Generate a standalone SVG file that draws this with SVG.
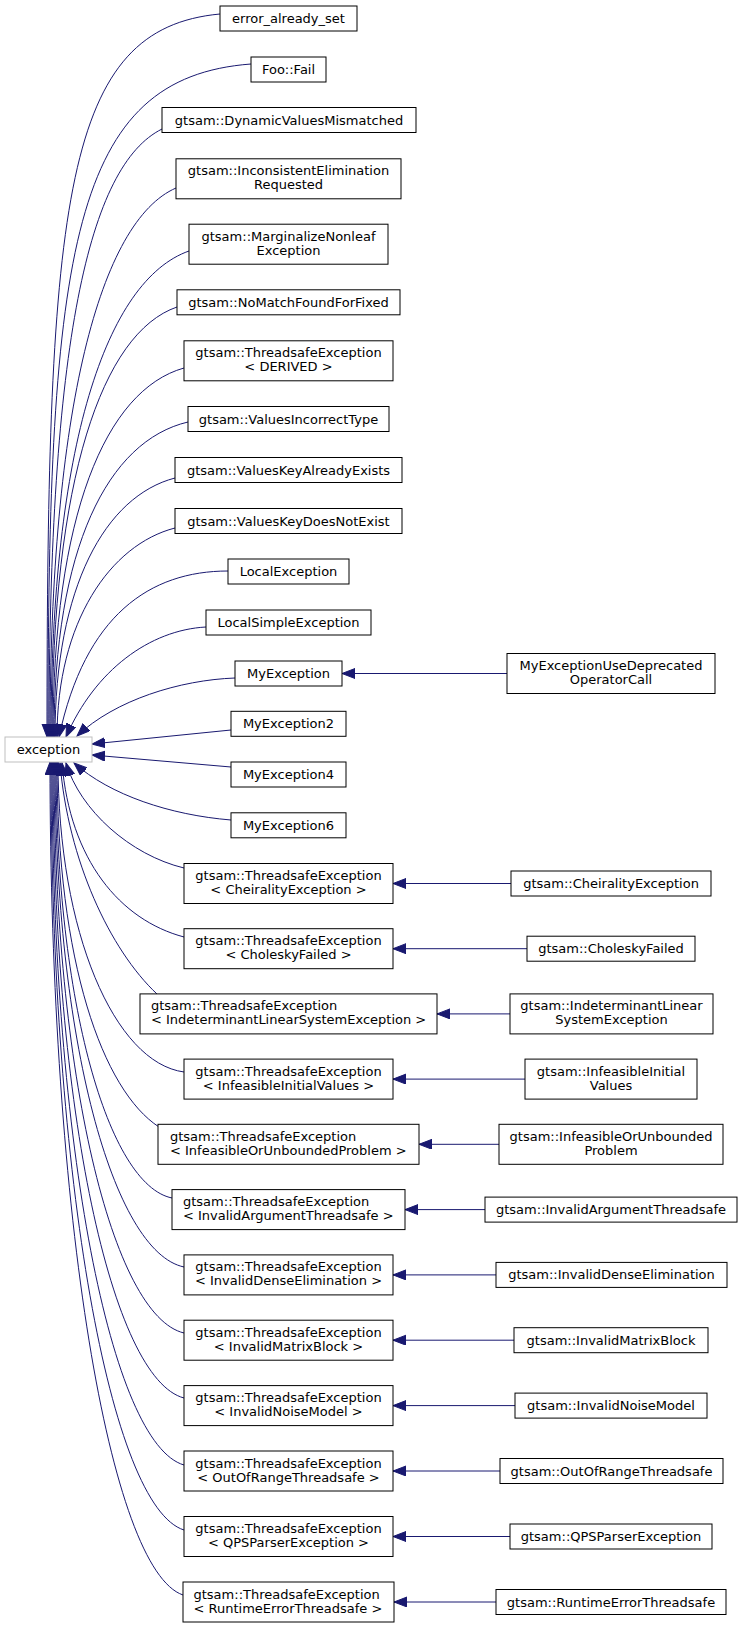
<svg xmlns="http://www.w3.org/2000/svg" width="743" height="1629" viewBox="0 0 743 1629">
<style>
.n rect{fill:#fff;stroke:#000;stroke-width:1}
.g rect{fill:#fff;stroke:#bfbfbf;stroke-width:1}
text{font-family:"DejaVu Sans","Liberation Sans",sans-serif;font-size:13px;fill:#000;text-anchor:middle}
text.l{text-anchor:start}
.e path{fill:none;stroke:#191970;stroke-width:1;marker-end:url(#ah)}
</style>
<defs>
<marker id="ah" markerUnits="userSpaceOnUse" markerWidth="14" markerHeight="11" refX="13" refY="5" orient="auto">
<path d="M0,0 L13,5 L0,10 z" fill="#191970" stroke="#191970" stroke-width="1"/>
</marker>
</defs>
<rect width="743" height="1629" fill="#fff"/>
<g class="e" id="connectors">
<path d="M220,14 C64.3,28.5 47,194.8 47,737"/>
<path d="M251,64 C72.4,77.5 48,245.7 48,737"/>
<path d="M162,129 C88.6,165.5 49,341.8 49,737"/>
<path d="M176,188 C100.4,220.9 50,407.6 50,737"/>
<path d="M189,251 C106.2,280.2 51,445.4 51,737"/>
<path d="M177,307 C102,332.8 52,479 52,737"/>
<path d="M184,368 C105.4,390.1 53,515.6 53,737"/>
<path d="M188,422 C107.6,440.9 54,548 54,737"/>
<path d="M175,478 C105.4,496.1 55,586.8 55,737"/>
<path d="M175,528 C110.1,544.7 57,622 57,737"/>
<path d="M228,571 C150,571 85,615 59,737"/>
<path d="M206,627 C150,630 95,670 66,737"/>
<path d="M235,678 C180,680 115,700 77,736"/>
<path d="M231,730 L92,744"/>
<path d="M231,767 L92,755"/>
<path d="M231,820 C170,815 110,795 74,763"/>
<path d="M184,868 C130,855 80,810 66,763"/>
<path d="M184,937 C120,920 70,860 62,763"/>
<path d="M157,994 C110,950 68,860 60,763"/>
<path d="M184,1072 C114.7,1062.7 58,932.5 58,762"/>
<path d="M159,1127 C102.9,1090.5 57,962.7 57,762"/>
<path d="M172,1198 C108.2,1184.9 56,1001.8 56,762"/>
<path d="M184,1267 C113,1251.9 55,1040 55,762"/>
<path d="M184,1333 C112.5,1315.9 54,1076 54,762"/>
<path d="M184,1398 C112,1379 53,1112 53,762"/>
<path d="M184,1465 C111.4,1444 52,1149 52,762"/>
<path d="M184,1530 C110.8,1507 51,1184.4 51,762"/>
<path d="M183,1595 C109.9,1570 50,1220.1 50,762"/>
<path d="M507,673.5 L342,673.5"/>
<path d="M511,883.5 L393,883.5"/>
<path d="M527,948.7 L393,948.7"/>
<path d="M510,1013.9 L437,1013.9"/>
<path d="M525,1079.1 L393,1079.1"/>
<path d="M499,1144.3 L419,1144.3"/>
<path d="M485,1209.6 L405,1209.6"/>
<path d="M496,1274.9 L393,1274.9"/>
<path d="M514,1340.2 L393,1340.2"/>
<path d="M515,1405.6 L393,1405.6"/>
<path d="M500,1471 L393,1471"/>
<path d="M510,1536.5 L393,1536.5"/>
<path d="M496,1602 L394,1602"/>
</g>
<g class="g" id="n_exception"><rect x="5" y="737" width="87" height="25"/><text x="48.5" y="754">exception</text></g>
<g class="n" id="n1"><rect x="220" y="6" width="137" height="25"/><text x="288.5" y="23">error_already_set</text></g>
<g class="n" id="n2"><rect x="251" y="57" width="75" height="25"/><text x="288.5" y="74">Foo::Fail</text></g>
<g class="n" id="n3"><rect x="162" y="107.5" width="254" height="25"/><text x="289" y="124.5">gtsam::DynamicValuesMismatched</text></g>
<g class="n" id="n4"><rect x="176" y="158.8" width="225" height="40"/><text x="288.5" y="175.3">gtsam::InconsistentElimination</text><text x="288.5" y="189.3">Requested</text></g>
<g class="n" id="n5"><rect x="189" y="224.2" width="199" height="40"/><text x="288.5" y="240.7">gtsam::MarginalizeNonleaf</text><text x="288.5" y="254.7">Exception</text></g>
<g class="n" id="n6"><rect x="177" y="289.8" width="223" height="25"/><text x="288.5" y="306.8">gtsam::NoMatchFoundForFixed</text></g>
<g class="n" id="n7"><rect x="184" y="340.8" width="209" height="40"/><text x="288.5" y="357.3">gtsam::ThreadsafeException</text><text x="288.5" y="371.3">&lt; DERIVED &gt;</text></g>
<g class="n" id="n8"><rect x="188" y="406.5" width="201" height="25"/><text x="288.5" y="423.5">gtsam::ValuesIncorrectType</text></g>
<g class="n" id="n9"><rect x="175" y="457.5" width="227" height="25"/><text x="288.5" y="474.5">gtsam::ValuesKeyAlreadyExists</text></g>
<g class="n" id="n10"><rect x="175" y="508.5" width="227" height="25"/><text x="288.5" y="525.5">gtsam::ValuesKeyDoesNotExist</text></g>
<g class="n" id="n11"><rect x="228" y="559" width="121" height="25"/><text x="288.5" y="576">LocalException</text></g>
<g class="n" id="n12"><rect x="206" y="610" width="165" height="25"/><text x="288.5" y="627">LocalSimpleException</text></g>
<g class="n" id="n13"><rect x="235" y="661" width="107" height="25"/><text x="288.5" y="678">MyException</text></g>
<g class="n" id="n14"><rect x="231" y="711.3" width="115" height="25"/><text x="288.5" y="728.3">MyException2</text></g>
<g class="n" id="n15"><rect x="231" y="762" width="115" height="25"/><text x="288.5" y="779">MyException4</text></g>
<g class="n" id="n16"><rect x="231" y="812.8" width="115" height="25"/><text x="288.5" y="829.8">MyException6</text></g>
<g class="n" id="n17"><rect x="184" y="863.5" width="209" height="40"/><text x="288.5" y="880">gtsam::ThreadsafeException</text><text x="288.5" y="894">&lt; CheiralityException &gt;</text></g>
<g class="n" id="n18"><rect x="184" y="928.7" width="209" height="40"/><text x="288.5" y="945.2">gtsam::ThreadsafeException</text><text x="288.5" y="959.2">&lt; CholeskyFailed &gt;</text></g>
<g class="n" id="n19"><rect x="140" y="993.9" width="297" height="40"/><text class="l" x="151" y="1010.4">gtsam::ThreadsafeException</text><text class="l" x="151" y="1024.4">&lt; IndeterminantLinearSystemException &gt;</text></g>
<g class="n" id="n20"><rect x="184" y="1059.1" width="209" height="40"/><text x="288.5" y="1075.6">gtsam::ThreadsafeException</text><text x="288.5" y="1089.6">&lt; InfeasibleInitialValues &gt;</text></g>
<g class="n" id="n21"><rect x="158" y="1124.3" width="261" height="40"/><text class="l" x="170" y="1140.8">gtsam::ThreadsafeException</text><text class="l" x="170" y="1154.8">&lt; InfeasibleOrUnboundedProblem &gt;</text></g>
<g class="n" id="n22"><rect x="172" y="1189.6" width="233" height="40"/><text class="l" x="183" y="1206.1">gtsam::ThreadsafeException</text><text class="l" x="183" y="1220.1">&lt; InvalidArgumentThreadsafe &gt;</text></g>
<g class="n" id="n23"><rect x="184" y="1254.9" width="209" height="40"/><text x="288.5" y="1271.4">gtsam::ThreadsafeException</text><text x="288.5" y="1285.4">&lt; InvalidDenseElimination &gt;</text></g>
<g class="n" id="n24"><rect x="184" y="1320.2" width="209" height="40"/><text x="288.5" y="1336.7">gtsam::ThreadsafeException</text><text x="288.5" y="1350.7">&lt; InvalidMatrixBlock &gt;</text></g>
<g class="n" id="n25"><rect x="184" y="1385.6" width="209" height="40"/><text x="288.5" y="1402.1">gtsam::ThreadsafeException</text><text x="288.5" y="1416.1">&lt; InvalidNoiseModel &gt;</text></g>
<g class="n" id="n26"><rect x="184" y="1451" width="209" height="40"/><text x="288.5" y="1467.5">gtsam::ThreadsafeException</text><text x="288.5" y="1481.5">&lt; OutOfRangeThreadsafe &gt;</text></g>
<g class="n" id="n27"><rect x="184" y="1516.5" width="209" height="40"/><text x="288.5" y="1533">gtsam::ThreadsafeException</text><text x="288.5" y="1547">&lt; QPSParserException &gt;</text></g>
<g class="n" id="n28"><rect x="183" y="1582" width="211" height="40"/><text class="l" x="193.5" y="1598.5">gtsam::ThreadsafeException</text><text class="l" x="193.5" y="1612.5">&lt; RuntimeErrorThreadsafe &gt;</text></g>
<g class="n" id="r13"><rect x="507" y="653.5" width="208" height="40"/><text x="611" y="670">MyExceptionUseDeprecated</text><text x="611" y="684">OperatorCall</text></g>
<g class="n" id="r17"><rect x="511" y="871" width="200" height="25"/><text x="611" y="888">gtsam::CheiralityException</text></g>
<g class="n" id="r18"><rect x="527" y="936.2" width="168" height="25"/><text x="611" y="953.2">gtsam::CholeskyFailed</text></g>
<g class="n" id="r19"><rect x="510" y="993.9" width="203" height="40"/><text x="611.5" y="1010.4">gtsam::IndeterminantLinear</text><text x="611.5" y="1024.4">SystemException</text></g>
<g class="n" id="r20"><rect x="525" y="1059.1" width="172" height="40"/><text x="611" y="1075.6">gtsam::InfeasibleInitial</text><text x="611" y="1089.6">Values</text></g>
<g class="n" id="r21"><rect x="499" y="1124.3" width="224" height="40"/><text x="611" y="1140.8">gtsam::InfeasibleOrUnbounded</text><text x="611" y="1154.8">Problem</text></g>
<g class="n" id="r22"><rect x="485" y="1197.1" width="252" height="25"/><text x="611" y="1214.1">gtsam::InvalidArgumentThreadsafe</text></g>
<g class="n" id="r23"><rect x="496" y="1262.4" width="231" height="25"/><text x="611.5" y="1279.4">gtsam::InvalidDenseElimination</text></g>
<g class="n" id="r24"><rect x="514" y="1327.7" width="194" height="25"/><text x="611" y="1344.7">gtsam::InvalidMatrixBlock</text></g>
<g class="n" id="r25"><rect x="515" y="1393.1" width="192" height="25"/><text x="611" y="1410.1">gtsam::InvalidNoiseModel</text></g>
<g class="n" id="r26"><rect x="500" y="1458.5" width="223" height="25"/><text x="611.5" y="1475.5">gtsam::OutOfRangeThreadsafe</text></g>
<g class="n" id="r27"><rect x="510" y="1524" width="202" height="25"/><text x="611" y="1541">gtsam::QPSParserException</text></g>
<g class="n" id="r28"><rect x="496" y="1589.5" width="230" height="25"/><text x="611" y="1606.5">gtsam::RuntimeErrorThreadsafe</text></g>
</svg>
